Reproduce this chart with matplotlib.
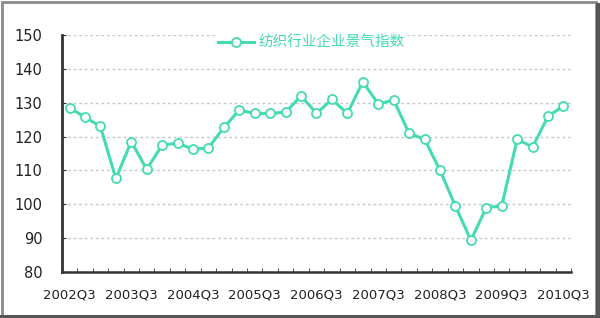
import numpy as np
import matplotlib.pyplot as plt
from matplotlib.patches import Rectangle
from matplotlib.ticker import MultipleLocator

plt.rcParams['font.family'] = ['Noto Sans CJK SC', 'DejaVu Sans']

quarters = ['2002Q3', '2002Q4', '2003Q1', '2003Q2', '2003Q3', '2003Q4', '2004Q1', '2004Q2',
            '2004Q3', '2004Q4', '2005Q1', '2005Q2', '2005Q3', '2005Q4', '2006Q1', '2006Q2',
            '2006Q3', '2006Q4', '2007Q1', '2007Q2', '2007Q3', '2007Q4', '2008Q1', '2008Q2',
            '2008Q3', '2008Q4', '2009Q1', '2009Q2', '2009Q3', '2009Q4', '2010Q1', '2010Q2',
            '2010Q3']
index = [128.5, 125.7, 123.0, 107.6, 118.5, 110.3, 117.5, 118.0, 116.3, 116.6, 122.7,
         127.8, 126.8, 126.8, 127.2, 132.0, 126.8, 131.0, 126.8, 136.2, 129.6, 130.8,
         120.9, 119.2, 110.0, 99.5, 89.3, 99.0, 99.5, 119.2, 116.9, 126.0, 129.0]
label_positions = [0, 4, 8, 12, 16, 20, 24, 28, 32]
label_text = ['2002Q3', '2003Q3', '2004Q3', '2005Q3', '2006Q3', '2007Q3', '2008Q3', '2009Q3', '2010Q3']

teal = '#45dbb2'

fig = plt.figure(figsize=(6, 3.18), dpi=100)
ax = fig.add_axes([0.103, 0.145, 0.849, 0.745])

x = np.arange(len(quarters))
ax.plot(x, index, color=teal, lw=2.2, marker='o', ms=6.5, mfc='white', mec=teal, mew=1.3,
        label='纺织行业企业景气指数', zorder=3)

ax.set_xlim(-0.5, len(quarters) - 0.5)
ax.set_ylim(80, 150)
ax.yaxis.set_major_locator(MultipleLocator(10))
ax.yaxis.grid(True, ls=(0, (2, 2)), color='#c8c8c8', lw=1)
ax.set_axisbelow(True)

ax.set_xticks(label_positions)
ax.set_xticklabels(label_text, fontsize=9.5, color='#222222', family='DejaVu Sans')
ax.tick_params(axis='x', which='major', length=0, pad=12)
ax.set_xticks(np.arange(-0.5, len(quarters), 1), minor=True)
ax.tick_params(axis='x', which='minor', direction='in', length=3, color='#333333')
ax.tick_params(axis='y', direction='in', length=3, color='#333333', labelsize=10.5,
               labelcolor='#222222', pad=14)
for t in ax.get_yticklabels():
    t.set_family('DejaVu Sans')

for s in ['top', 'right']:
    ax.spines[s].set_visible(False)
ax.spines['left'].set_linewidth(2)
ax.spines['left'].set_color('#333333')
ax.spines['bottom'].set_linewidth(1.8)
ax.spines['bottom'].set_color('#333333')

leg = ax.legend(loc='upper center', bbox_to_anchor=(0.49, 1.04), frameon=True,
                edgecolor='none', facecolor='white', framealpha=1, fontsize=10.5,
                handlelength=2.5, borderpad=0.2, handletextpad=0.3)
for t in leg.get_texts():
    t.set_color(teal)

fig.patches.append(Rectangle((0.003, 0.006), 0.99, 0.988, transform=fig.transFigure,
                             fill=False, edgecolor='#8a8a8a', lw=2))
fig.patches.append(Rectangle((0.993, 0.0), 0.007, 0.99, transform=fig.transFigure,
                             color='#555555', lw=0))
fig.patches.append(Rectangle((0.0, 0.0), 1.0, 0.008, transform=fig.transFigure,
                             color='#555555', lw=0))

fig.savefig('out.png', dpi=100)
